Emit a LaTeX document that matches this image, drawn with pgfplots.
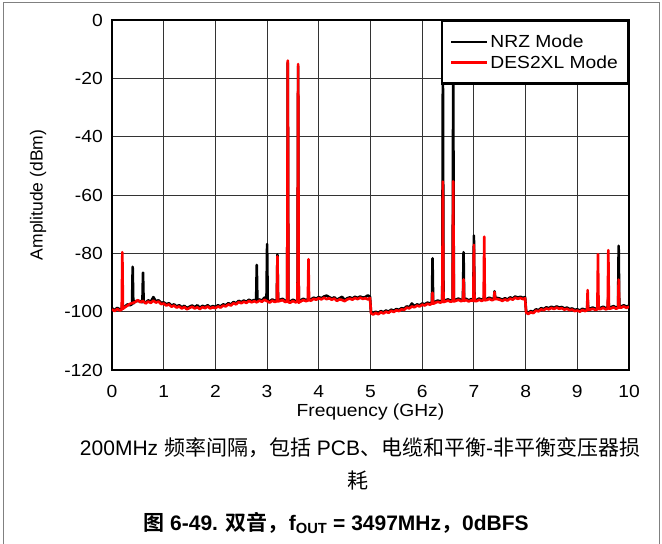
\documentclass[border=0pt]{standalone}
\usepackage{fontspec}
\usepackage{pgfplots}
\usepackage{pgfplotstable}
\pgfplotsset{compat=1.18}
\setmainfont{Liberation Sans}
\newfontfamily\chartfont{Liberation Sans}[FakeStretch=1.1]
\newfontfamily\cjk{Noto Sans CJK SC}[BoldFont={Noto Sans CJK SC Bold}]

\pgfplotstableread{
f y
0.00 -99.2
0.05 -99.8
0.10 -99.1
0.15 -99.6
0.188 -99.3
0.20 -79.6
0.212 -99.0
0.25 -98.5
0.30 -97.9
0.35 -97.3
0.40 -97.0
0.45 -96.7
0.50 -96.0
0.55 -96.8
0.60 -96.3
0.65 -97.2
0.70 -96.5
0.75 -97.0
0.80 -96.2
0.85 -96.9
0.90 -96.5
0.95 -97.4
1.00 -97.2
1.05 -97.9
1.10 -97.5
1.15 -98.3
1.20 -97.9
1.25 -98.6
1.30 -98.2
1.35 -98.9
1.40 -98.4
1.45 -99.2
1.50 -98.7
1.55 -98.3
1.60 -98.9
1.65 -98.5
1.70 -99.1
1.75 -98.4
1.80 -98.8
1.85 -98.2
1.90 -98.9
1.95 -98.5
2.00 -98.8
2.05 -98.2
2.10 -98.6
2.15 -97.9
2.20 -98.2
2.25 -97.5
2.30 -97.9
2.35 -97.1
2.40 -97.5
2.45 -96.7
2.50 -97.1
2.55 -96.6
2.60 -97.0
2.65 -96.3
2.70 -96.8
2.75 -96.4
2.80 -96.8
2.85 -96.2
2.90 -96.6
2.95 -95.9
3.00 -96.4
3.05 -96.9
3.10 -96.2
3.15 -96.7
3.188 -96.4
3.20 -81.0
3.212 -96.5
3.25 -96.3
3.30 -96.0
3.35 -96.7
3.388 -96.5
3.40 -13.9
3.412 -96.8
3.45 -96.9
3.50 -96.3
3.55 -96.8
3.588 -96.6
3.60 -15.1
3.612 -96.9
3.65 -96.5
3.70 -96.0
3.75 -96.4
3.788 -96.2
3.80 -82.0
3.812 -96.1
3.85 -96.2
3.90 -95.6
3.95 -95.9
4.00 -95.4
4.05 -95.8
4.10 -95.2
4.15 -95.7
4.20 -95.4
4.25 -95.9
4.30 -95.5
4.35 -96.3
4.40 -95.8
4.45 -96.0
4.50 -96.4
4.55 -95.8
4.60 -95.5
4.65 -95.9
4.70 -95.3
4.75 -95.7
4.80 -95.2
4.85 -95.6
4.90 -95.4
4.95 -95.8
4.99 -95.3
5.01 -100.5
5.05 -101.0
5.10 -100.4
5.15 -100.9
5.20 -100.2
5.25 -100.6
5.30 -100.0
5.35 -100.4
5.40 -99.7
5.45 -100.1
5.50 -99.5
5.55 -99.8
5.60 -99.2
5.65 -99.4
5.70 -98.6
5.75 -98.9
5.80 -98.2
5.85 -98.5
5.90 -97.9
5.95 -98.2
6.00 -97.6
6.05 -97.9
6.10 -97.3
6.15 -97.6
6.188 -97.2
6.20 -93.5
6.212 -97.3
6.25 -97.0
6.30 -96.6
6.35 -96.9
6.388 -96.6
6.40 -55.4
6.412 -96.7
6.45 -96.5
6.50 -96.2
6.55 -96.6
6.588 -96.4
6.60 -55.3
6.612 -96.5
6.65 -96.3
6.70 -95.9
6.75 -96.4
6.788 -96.2
6.80 -88.9
6.812 -96.3
6.85 -96.0
6.90 -96.5
6.95 -96.1
6.988 -96.3
7.00 -77.1
7.012 -96.4
7.05 -96.4
7.10 -95.9
7.15 -96.3
7.188 -96.0
7.20 -74.3
7.212 -96.1
7.25 -96.0
7.30 -95.6
7.35 -96.1
7.388 -95.8
7.40 -93.3
7.412 -95.7
7.45 -95.7
7.50 -95.9
7.55 -96.3
7.60 -95.8
7.65 -96.2
7.70 -95.5
7.75 -95.9
7.80 -95.2
7.85 -95.6
7.90 -95.3
7.95 -95.7
7.99 -95.4
8.01 -100.3
8.05 -100.8
8.10 -100.2
8.15 -100.5
8.20 -99.6
8.25 -99.9
8.30 -99.2
8.35 -99.5
8.40 -98.9
8.45 -99.2
8.50 -98.7
8.55 -99.1
8.60 -98.6
8.65 -99.0
8.70 -98.8
8.75 -99.3
8.80 -99.0
8.85 -99.5
8.90 -99.3
8.95 -99.8
9.00 -99.6
9.05 -100.0
9.10 -99.4
9.15 -99.8
9.188 -99.5
9.20 -92.6
9.212 -99.4
9.25 -99.3
9.30 -99.0
9.35 -99.4
9.388 -99.2
9.40 -80.3
9.412 -99.1
9.45 -99.1
9.50 -98.7
9.55 -99.2
9.588 -99.0
9.60 -78.9
9.612 -98.9
9.65 -98.9
9.70 -98.5
9.75 -99.0
9.788 -98.7
9.80 -89.0
9.812 -98.6
9.85 -98.6
9.90 -98.2
9.95 -98.7
10.00 -98.3
}\desdata

\pgfplotstableread{
f y
0.00 -98.8
0.05 -99.5
0.10 -98.7
0.15 -99.2
0.188 -99.0
0.20 -97.0
0.212 -98.8
0.25 -98.2
0.30 -97.5
0.35 -97.8
0.388 -97.4
0.40 -84.6
0.412 -97.2
0.45 -96.4
0.50 -96.4
0.55 -96.4
0.588 -96.8
0.60 -86.6
0.612 -96.6
0.65 -96.9
0.70 -96.1
0.75 -96.6
0.80 -95.0
0.85 -96.5
0.90 -96.1
0.95 -97.0
1.00 -96.8
1.05 -97.5
1.10 -97.1
1.15 -97.9
1.20 -97.5
1.25 -98.2
1.30 -97.8
1.35 -98.5
1.40 -98.0
1.45 -98.8
1.50 -98.3
1.55 -97.9
1.60 -98.5
1.65 -97.8
1.70 -98.7
1.75 -98.0
1.80 -98.4
1.85 -97.8
1.90 -98.5
1.95 -98.1
2.00 -98.4
2.05 -97.8
2.10 -98.2
2.15 -97.5
2.20 -97.8
2.25 -97.1
2.30 -97.5
2.35 -96.7
2.40 -97.1
2.45 -96.3
2.50 -96.7
2.55 -96.2
2.60 -96.6
2.65 -95.9
2.70 -96.4
2.75 -96.0
2.788 -96.3
2.80 -84.0
2.812 -96.2
2.85 -95.8
2.90 -96.2
2.95 -95.2
2.988 -96.0
3.00 -76.8
3.012 -96.2
3.05 -96.5
3.10 -95.8
3.15 -96.3
3.188 -96.0
3.20 -80.4
3.212 -96.1
3.25 -95.9
3.30 -95.6
3.35 -96.3
3.388 -96.1
3.40 -14.6
3.412 -96.4
3.45 -96.5
3.50 -95.9
3.55 -96.4
3.588 -96.2
3.60 -15.8
3.612 -96.5
3.65 -96.1
3.70 -95.6
3.75 -96.0
3.788 -95.8
3.80 -95.0
3.812 -95.7
3.85 -95.8
3.90 -95.2
3.95 -95.5
4.00 -95.0
4.05 -95.4
4.10 -94.8
4.15 -94.5
4.20 -95.0
4.25 -95.5
4.30 -95.1
4.35 -95.9
4.40 -95.4
4.45 -94.9
4.50 -96.0
4.55 -95.4
4.60 -95.1
4.65 -95.5
4.70 -94.9
4.75 -95.3
4.80 -94.8
4.85 -95.2
4.90 -95.0
4.95 -94.4
4.99 -94.9
5.01 -100.1
5.05 -100.6
5.10 -100.0
5.15 -100.5
5.20 -99.8
5.25 -100.2
5.30 -99.6
5.35 -100.0
5.40 -99.3
5.45 -99.7
5.50 -99.1
5.55 -99.4
5.60 -98.8
5.65 -99.0
5.70 -98.2
5.75 -98.5
5.80 -97.2
5.85 -98.1
5.90 -97.5
5.95 -97.8
6.00 -97.2
6.05 -97.5
6.10 -96.9
6.15 -97.2
6.188 -96.8
6.20 -81.7
6.212 -96.9
6.25 -96.6
6.30 -96.2
6.35 -96.5
6.388 -96.2
6.40 -14.5
6.412 -96.3
6.45 -96.1
6.50 -95.8
6.55 -96.2
6.588 -96.0
6.60 -15.0
6.612 -96.1
6.65 -95.9
6.70 -95.5
6.75 -96.0
6.788 -95.8
6.80 -79.6
6.812 -95.9
6.85 -95.6
6.90 -96.1
6.95 -95.7
6.988 -95.9
7.00 -73.9
7.012 -96.0
7.05 -96.0
7.10 -95.5
7.15 -95.9
7.188 -95.6
7.20 -94.5
7.212 -95.7
7.25 -95.6
7.30 -95.2
7.35 -95.7
7.388 -95.4
7.40 -93.0
7.412 -95.3
7.45 -95.3
7.50 -95.5
7.55 -95.9
7.60 -95.4
7.65 -95.8
7.70 -95.1
7.75 -95.5
7.80 -94.8
7.85 -95.2
7.90 -94.9
7.95 -95.3
7.99 -95.0
8.01 -99.9
8.05 -100.4
8.10 -99.8
8.15 -100.1
8.20 -99.2
8.25 -99.5
8.30 -98.8
8.35 -99.1
8.40 -98.5
8.45 -98.8
8.50 -98.3
8.55 -98.7
8.60 -98.2
8.65 -98.6
8.70 -98.4
8.75 -98.9
8.80 -98.6
8.85 -99.1
8.90 -98.9
8.95 -99.4
9.00 -99.2
9.05 -99.6
9.10 -99.0
9.15 -99.4
9.188 -99.1
9.20 -96.5
9.212 -99.0
9.25 -98.9
9.30 -98.6
9.35 -99.0
9.388 -98.8
9.40 -95.5
9.412 -98.7
9.45 -98.7
9.50 -98.3
9.55 -98.8
9.588 -98.6
9.60 -95.0
9.612 -98.5
9.65 -98.5
9.70 -98.1
9.75 -98.6
9.788 -98.3
9.80 -77.4
9.812 -98.2
9.85 -98.2
9.90 -97.8
9.95 -98.3
10.00 -97.9
}\nrzdata

\begin{document}
\begin{tikzpicture}
\path[use as bounding box] (0,0) rectangle (662pt,-544pt);
\draw[black!50, line width=1pt] (3pt,-544pt) -- (3pt,-2pt) -- (659pt,-2pt) -- (659pt,-544pt);
\begin{axis}[
  at={(112pt,-370pt)}, anchor=south west,
  width=517pt, height=350pt, scale only axis,
  xmin=0, xmax=10, ymin=-120, ymax=0,
  xtick={0,1,...,10}, ytick={-120,-100,...,0},
  major tick length=0pt,
  grid=major,
  major grid style={black!80, line width=0.9pt},
  axis line style={line width=2.4pt},
  /pgf/number format/assume math mode=true,
  tick label style={font=\chartfont\fontsize{17.5}{20}\selectfont, inner sep=0pt},
  yticklabel style={xshift=-9pt},
  xticklabel style={yshift=-15pt},
  xlabel={Frequency (GHz)},
  ylabel={Amplitude (dBm)},
  xlabel style={at={(axis description cs:0.5,-0.12)}, anchor=center, font=\chartfont\fontsize{17.5}{20}\selectfont},
  ylabel style={at={(axis description cs:-0.143,0.5)}, anchor=center, font=\fontsize{17.5}{20}\selectfont},
  legend style={at={(1,1)}, anchor=north east, draw=black, line width=2.4pt,
    font=\chartfont\fontsize{17.5}{20}\selectfont, inner xsep=8pt, inner ysep=12pt,
    row sep=2pt, cells={anchor=west},
    /tikz/every even column/.append style={column sep=9pt}},
  legend cell align=left,
  legend image code/.code={\draw[#1, line width=2.2pt] (0pt,0pt) -- (36pt,0pt);},
  every axis plot/.append style={line join=round},
]
\addplot[black, line width=2.6pt] table[x=f, y=y] {\nrzdata};
\addlegendentry{NRZ Mode}
\addplot[red, line width=2.6pt] table[x=f, y=y] {\desdata};
\addlegendentry{DES2XL Mode}
\end{axis}
\node[font=\fontsize{21}{25}\selectfont] at (360pt,-448pt) {200MHz {\cjk 频率间隔，包括} PCB{\cjk 、电缆和平衡}-{\cjk 非平衡变压器损}};
\node[font=\fontsize{21}{25}\selectfont] at (358pt,-481pt) {\cjk 耗};
\node[font=\fontsize{21}{25}\selectfont\bfseries] at (336pt,-523pt) {{\cjk 图} 6-49. {\cjk 双音，}f\textsubscript{OUT} = 3497MHz{\cjk ，}0dBFS};
\end{tikzpicture}
\end{document}
